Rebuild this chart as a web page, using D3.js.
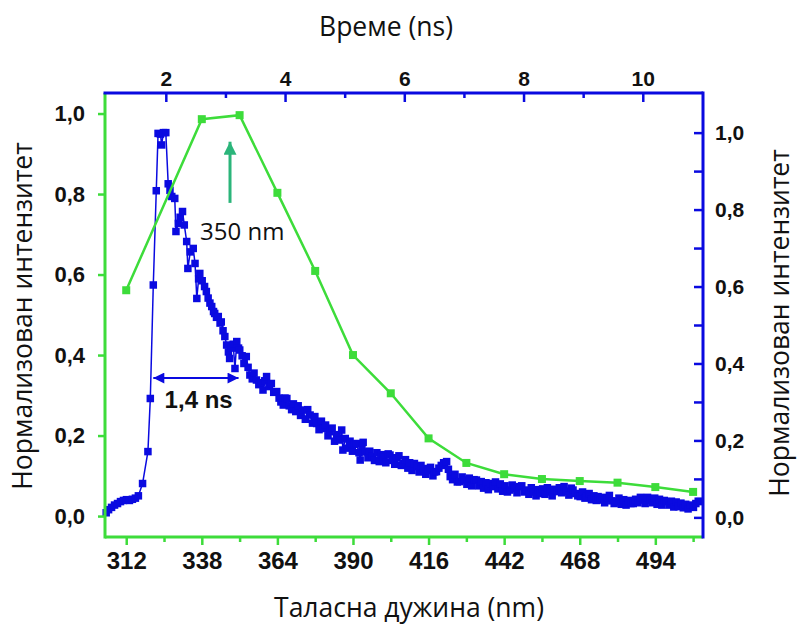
<!DOCTYPE html>
<html>
<head>
<meta charset="utf-8">
<script src="https://cdn.jsdelivr.net/npm/d3@7"></script>
<style>
  body { margin: 0; background: #fff; }
  .tick text { font-family: "Liberation Sans", Arial, sans-serif; font-weight: bold; fill: #111; }
  .title { font-family: "Open Sans", sans-serif; fill: #111; }
</style>
</head>
<body>
<svg id="chart" width="800" height="624"></svg>
<script>
// axis ticks
const wavelengthTicks = [312, 338, 364, 390, 416, 442, 468, 494];
const wavelengthMinor = [325, 351, 377, 403, 429, 455, 481, 507];
const timeTicks = [2, 4, 6, 8, 10];
const timeMinor = [3, 5, 7, 9];
const intensityTicks = [0, 0.2, 0.4, 0.6, 0.8, 1.0];
const intensityMinor = [0.1, 0.3, 0.5, 0.7, 0.9];

// green: emission spectrum (left / bottom axes)
const emissionWavelength = [312, 338, 351, 364, 377, 390, 403, 416, 429, 442, 455, 468, 481, 494, 507];
const emissionIntensity = [0.561, 0.986, 0.996, 0.803, 0.609, 0.40, 0.305, 0.193, 0.132, 0.104, 0.092, 0.087, 0.083, 0.072, 0.06];

// blue: time resolved decay (right / top axes), [ns, intensity]
const decay = [
  [1.00,0.012],[1.04,0.020],[1.09,0.026],[1.14,0.032],[1.19,0.036],[1.24,0.041],[1.29,0.044],[1.34,0.046],
  [1.39,0.044],[1.44,0.047],[1.49,0.050],[1.54,0.056],[1.61,0.088],[1.70,0.171],[1.74,0.309],[1.79,0.604],
  [1.84,0.849],[1.87,0.998],[1.91,0.996],[1.93,0.968],[1.96,1.0],[2.00,1.0],[2.04,0.867],[2.07,0.85],
  [2.10,0.834],[2.15,0.829],[2.17,0.743],[2.21,0.764],[2.24,0.78],[2.28,0.795],[2.31,0.76],[2.35,0.717],
  [2.37,0.647],[2.41,0.69],[2.46,0.699],[2.49,0.66],[2.52,0.569],[2.55,0.62],[2.57,0.634],[2.61,0.615],
  [2.65,0.600],[2.68,0.587],[2.71,0.57],[2.74,0.557],[2.77,0.548],[2.80,0.535],[2.82,0.530],[2.85,0.52],
  [2.88,0.522],[2.91,0.505],[2.93,0.508],[2.96,0.485],[2.99,0.470],[3.02,0.448],[3.05,0.43],[3.07,0.413],
  [3.10,0.44],[3.13,0.45],[3.16,0.387],[3.19,0.457],[3.22,0.44],[3.24,0.435],[3.28,0.42],[3.31,0.40],
  [3.35,0.418],[3.38,0.39],[3.41,0.370],[3.45,0.36],[3.48,0.375],[3.52,0.357],[3.56,0.345],[3.60,0.35],
  [3.63,0.331],[3.66,0.355],[3.69,0.366],[3.73,0.34],[3.77,0.348],[3.81,0.325],[3.86,0.327],[3.90,0.31],
  [3.93,0.30],[3.97,0.292],[4.00,0.31],[4.03,0.309],[4.07,0.29],[4.11,0.28],[4.14,0.295],[4.18,0.275],
  [4.22,0.29],[4.26,0.265],[4.30,0.279],[4.34,0.255],[4.38,0.28],[4.42,0.266],[4.46,0.245],[4.50,0.262],
  [4.53,0.244],[4.57,0.228],[4.61,0.25],[4.64,0.231],[4.68,0.24],[4.72,0.212],[4.75,0.223],[4.79,0.232],
  [4.83,0.198],[4.87,0.215],[4.92,0.201],[4.95,0.227],[4.97,0.175],[5.01,0.205],[5.05,0.18],[5.09,0.198],
  [5.13,0.172],[5.16,0.19],[5.20,0.192],[5.24,0.168],[5.26,0.149],[5.29,0.185],[5.31,0.195],[5.35,0.17],
  [5.39,0.155],[5.42,0.172],[5.46,0.158],[5.50,0.148],[5.54,0.168],[5.58,0.145],[5.62,0.163],[5.65,0.157],
  [5.69,0.142],[5.73,0.165],[5.76,0.162],[5.80,0.148],[5.84,0.138],[5.87,0.155],[5.91,0.16],[5.95,0.135],
  [5.98,0.140],[6.02,0.15],[6.06,0.128],[6.09,0.142],[6.13,0.122],[6.17,0.14],[6.21,0.132],[6.25,0.118],
  [6.28,0.135],[6.32,0.127],[6.36,0.112],[6.40,0.122],[6.44,0.13],[6.48,0.108],[6.51,0.118],[6.54,0.119],
  [6.58,0.128],[6.62,0.135],[6.66,0.142],[6.71,0.145],[6.74,0.125],[6.77,0.106],[6.81,0.098],[6.85,0.112],
  [6.89,0.092],[6.93,0.093],[6.97,0.105],[7.01,0.097],[7.05,0.086],[7.09,0.102],[7.13,0.082],[7.17,0.098],
  [7.21,0.097],[7.25,0.082],[7.29,0.093],[7.33,0.076],[7.37,0.09],[7.41,0.072],[7.45,0.088],[7.49,0.080],
  [7.53,0.092],[7.57,0.074],[7.61,0.087],[7.65,0.068],[7.69,0.082],[7.73,0.066],[7.77,0.071],[7.81,0.084],
  [7.85,0.075],[7.89,0.064],[7.93,0.08],[7.97,0.082],[8.01,0.066],[8.05,0.071],[8.09,0.06],[8.13,0.077],
  [8.17,0.066],[8.21,0.056],[8.25,0.072],[8.28,0.062],[8.32,0.074],[8.36,0.06],[8.40,0.077],[8.44,0.066],
  [8.48,0.056],[8.52,0.073],[8.56,0.067],[8.60,0.077],[8.64,0.064],[8.68,0.08],[8.72,0.068],[8.76,0.058],
  [8.80,0.076],[8.83,0.071],[8.87,0.062],[8.91,0.056],[8.95,0.054],[8.99,0.066],[9.03,0.05],[9.06,0.054],
  [9.10,0.062],[9.14,0.046],[9.18,0.056],[9.22,0.044],[9.25,0.054],[9.28,0.045],[9.32,0.052],[9.36,0.038],
  [9.40,0.05],[9.44,0.057],[9.48,0.043],[9.52,0.036],[9.56,0.041],[9.60,0.05],[9.64,0.034],[9.68,0.046],
  [9.72,0.032],[9.76,0.044],[9.80,0.036],[9.84,0.036],[9.88,0.047],[9.92,0.038],[9.96,0.052],[10.00,0.045],
  [10.04,0.036],[10.08,0.052],[10.12,0.045],[10.16,0.038],[10.20,0.05],[10.24,0.034],[10.28,0.047],[10.32,0.032],
  [10.36,0.044],[10.40,0.041],[10.44,0.032],[10.48,0.042],[10.52,0.027],[10.56,0.04],[10.60,0.028],[10.64,0.037],
  [10.68,0.025],[10.72,0.034],[10.76,0.022],[10.80,0.032],[10.85,0.026],[10.89,0.036],[10.93,0.042],[10.96,0.041]
];

// annotations
const fwhmSpan = [1.79, 3.22];   // ns
const fwhmLevel = 0.362;
const fwhmLabel = "1,4 ns";
const peakArrowNm = 347.7;
const peakArrowFrom = 0.778, peakArrowTo = 0.93;
const peakLabel = "350 nm";

const GREEN = "#3ddc3a", BLUE = "#0a0ae0", TEAL = "#2bb57a";

const svg = d3.select("#chart");
svg.append("rect").attr("width", 800).attr("height", 624).attr("fill", "#fff");

let x = d3.scaleLinear().domain([304.7, 510.4]).range([105, 703]);
let t = d3.scaleLinear().domain([0.98, 11.01]).range([105, 703]);
let yL = d3.scaleLinear().domain([-0.052, 1.051]).range([537, 93]);
let yR = d3.scaleLinear().domain([-0.051, 1.103]).range([537, 93]);

const comma = d => d3.format(".1f")(d).replace(".", ",");

// blue decay
svg.append("path")
    .datum(decay)
    .attr("fill", "none")
    .attr("stroke", BLUE)
    .attr("stroke-width", 1.5)
    .attr("d", d3.line().x(d => t(d[0])).y(d => yR(d[1])));

svg.append("g").selectAll("rect")
    .data(decay)
    .join("rect")
    .attr("x", d => t(d[0]) - 3.75)
    .attr("y", d => yR(d[1]) - 3.75)
    .attr("width", 7.5).attr("height", 7.5)
    .attr("fill", BLUE);

// green spectrum
let emission = emissionWavelength.map((w, i) => ({w: w, v: emissionIntensity[i]}));
svg.append("path")
    .datum(emission)
    .attr("fill", "none")
    .attr("stroke", GREEN)
    .attr("stroke-width", 2.5)
    .attr("d", d3.line().x(d => x(d.w)).y(d => yL(d.v)));

svg.append("g").selectAll("rect")
    .data(emission)
    .join("rect")
    .attr("x", d => x(d.w) - 4)
    .attr("y", d => yL(d.v) - 4)
    .attr("width", 8).attr("height", 8)
    .attr("fill", GREEN);

// axes
function styleAxis(g, color) {
    g.select(".domain").remove();
    g.selectAll(".tick line").attr("stroke", color).attr("stroke-width", 2.5);
}

svg.append("g")
    .attr("transform", "translate(0,537)")
    .call(d3.axisBottom(x).tickValues(wavelengthTicks).tickFormat(d3.format("d")).tickSize(8).tickPadding(7))
    .call(g => styleAxis(g, GREEN))
    .selectAll("text").style("font-size", "24px");
svg.append("g")
    .attr("transform", "translate(0,537)")
    .call(d3.axisBottom(x).tickValues(wavelengthMinor).tickFormat("").tickSize(5))
    .call(g => styleAxis(g, GREEN));

svg.append("g")
    .attr("transform", "translate(105,0)")
    .call(d3.axisLeft(yL).tickValues(intensityTicks).tickFormat(comma).tickSize(7).tickPadding(13))
    .call(g => styleAxis(g, GREEN))
    .selectAll("text").style("font-size", "22px");

svg.append("g")
    .attr("transform", "translate(0,93)")
    .call(d3.axisTop(t).tickValues(timeTicks).tickFormat(d3.format("d")).tickSize(-9).tickPadding(7))
    .call(g => styleAxis(g, BLUE))
    .selectAll("text").style("font-size", "21px");
svg.append("g")
    .attr("transform", "translate(0,93)")
    .call(d3.axisTop(t).tickValues(timeMinor).tickFormat("").tickSize(-5))
    .call(g => styleAxis(g, BLUE));

svg.append("g")
    .attr("transform", "translate(703,0)")
    .call(d3.axisRight(yR).tickValues(intensityTicks.concat(intensityMinor)).tickFormat(d => intensityTicks.includes(d) ? comma(d) : "").tickSize(-9).tickPadding(12))
    .call(g => styleAxis(g, BLUE))
    .selectAll("text").style("font-size", "21px");

// frame lines
svg.append("line").attr("x1", 105).attr("x2", 105).attr("y1", yL.range()[0] + 1.5).attr("y2", yL.range()[1])
    .attr("stroke", GREEN).attr("stroke-width", 3);
svg.append("line").attr("x1", x.range()[0]).attr("x2", x.range()[1]).attr("y1", 537).attr("y2", 537)
    .attr("stroke", GREEN).attr("stroke-width", 3);
svg.append("line").attr("x1", t.range()[0] - 1.5).attr("x2", t.range()[1]).attr("y1", 93).attr("y2", 93)
    .attr("stroke", BLUE).attr("stroke-width", 3);
svg.append("line").attr("x1", 703).attr("x2", 703).attr("y1", yR.range()[1] - 1.5).attr("y2", yR.range()[0] + 1.5)
    .attr("stroke", BLUE).attr("stroke-width", 3);

// titles
svg.append("text").attr("class", "title").attr("x", 386).attr("y", 36)
    .attr("text-anchor", "middle").style("font-size", "26.5px").text("Време (ns)");
svg.append("text").attr("class", "title").attr("x", 409).attr("y", 617)
    .attr("text-anchor", "middle").style("font-size", "26.5px").text("Таласна дужина (nm)");
svg.append("text").attr("class", "title").attr("transform", "translate(32,316) rotate(-90)")
    .attr("text-anchor", "middle").style("font-size", "26.5px").text("Нормализован интензитет");
svg.append("text").attr("class", "title").attr("transform", "translate(789,323) rotate(-90)")
    .attr("text-anchor", "middle").style("font-size", "26.5px").text("Нормализован интензитет");

// arrow heads
const defs = svg.append("defs");
defs.append("marker").attr("id", "headBlue")
    .attr("viewBox", "0 0 10 10").attr("refX", 10).attr("refY", 5)
    .attr("markerUnits", "userSpaceOnUse").attr("markerWidth", 12).attr("markerHeight", 11)
    .attr("orient", "auto-start-reverse")
    .append("path").attr("d", "M0,0L10,5L0,10z").attr("fill", BLUE);
defs.append("marker").attr("id", "headTeal")
    .attr("viewBox", "0 0 10 10").attr("refX", 10).attr("refY", 5)
    .attr("markerUnits", "userSpaceOnUse").attr("markerWidth", 13).attr("markerHeight", 13)
    .attr("orient", "auto")
    .append("path").attr("d", "M0,0L10,5L0,10z").attr("fill", TEAL);

svg.append("line")
    .attr("x1", t(fwhmSpan[0])).attr("x2", t(fwhmSpan[1]))
    .attr("y1", yR(fwhmLevel)).attr("y2", yR(fwhmLevel))
    .attr("stroke", BLUE).attr("stroke-width", 2)
    .attr("marker-start", "url(#headBlue)").attr("marker-end", "url(#headBlue)");
svg.append("text")
    .attr("x", t(1.98)).attr("y", yR(0.284))
    .style("font-family", "'Liberation Sans', Arial, sans-serif").style("font-weight", "bold")
    .style("font-size", "24px").attr("fill", "#111").text(fwhmLabel);

svg.append("line")
    .attr("x1", x(peakArrowNm)).attr("x2", x(peakArrowNm))
    .attr("y1", yL(peakArrowFrom)).attr("y2", yL(peakArrowTo))
    .attr("stroke", TEAL).attr("stroke-width", 3)
    .attr("marker-end", "url(#headTeal)");
svg.append("text").attr("class", "title")
    .attr("x", x(337.4)).attr("y", yL(0.686))
    .style("font-size", "24px").text(peakLabel);
</script>
</body>
</html>
